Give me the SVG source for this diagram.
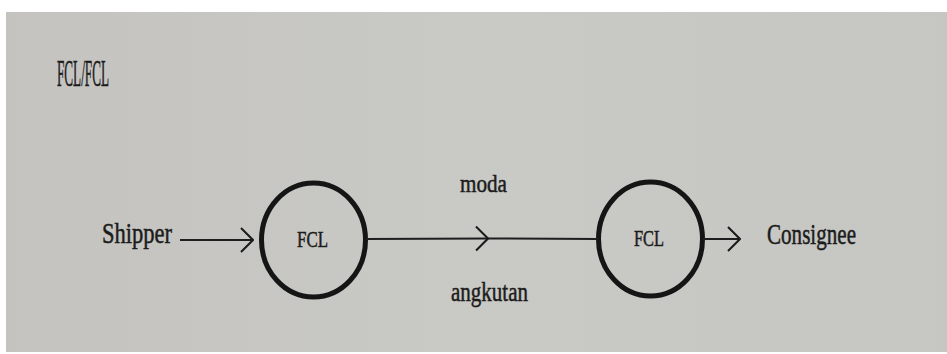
<svg xmlns="http://www.w3.org/2000/svg" width="947" height="354" viewBox="0 0 947 354">
<defs>
<marker id="chev" viewBox="0 0 14 26" refX="13" refY="13" markerWidth="14" markerHeight="26" markerUnits="userSpaceOnUse" orient="auto">
<path d="M1,1 L13,13 L1,25" fill="none" stroke="#1a1a1a" stroke-width="2"/>
</marker>
<linearGradient id="bg" x1="0" y1="0" x2="1" y2="0">
<stop offset="0" stop-color="#c4c3bf"/>
<stop offset="0.5" stop-color="#c9c9c5"/>
<stop offset="1" stop-color="#c6c6c2"/>
</linearGradient>
</defs>
<style>
.t{font-family:"Liberation Serif","Times New Roman",serif;fill:#1c1c1c;stroke:#1c1c1c;stroke-width:0.5}
.node{fill:none;stroke:#151515;stroke-width:5}
.edge{stroke:#1e1e1e;stroke-width:2;fill:none}
</style>
<rect x="0" y="0" width="947" height="354" fill="#ffffff"/>
<rect x="6" y="12" width="941" height="340" fill="url(#bg)"/>
<text class="t" x="57" y="86" font-size="37" textLength="52" lengthAdjust="spacingAndGlyphs">FCL/FCL</text>
<g id="shipper"><text class="t" x="102" y="243" font-size="29" textLength="70" lengthAdjust="spacingAndGlyphs">Shipper</text></g>
<g id="fcl1">
<ellipse class="node" cx="313.5" cy="240" rx="52" ry="57"/>
<text class="t" x="297" y="247" font-size="23" textLength="31" lengthAdjust="spacingAndGlyphs">FCL</text>
</g>
<g id="fcl2">
<ellipse class="node" cx="650.5" cy="239" rx="52" ry="57"/>
<text class="t" x="634" y="246" font-size="23" textLength="30" lengthAdjust="spacingAndGlyphs">FCL</text>
</g>
<g id="consignee"><text class="t" x="767" y="244" font-size="29" textLength="89" lengthAdjust="spacingAndGlyphs">Consignee</text></g>
<g id="connectors">
<line class="edge" x1="180" y1="240" x2="253" y2="240" marker-end="url(#chev)"/>
<line class="edge" x1="366" y1="239" x2="488" y2="238.5" marker-end="url(#chev)"/>
<line class="edge" x1="488" y1="238.5" x2="598" y2="239"/>
<line class="edge" x1="703" y1="239" x2="740" y2="239" marker-end="url(#chev)"/>
<text class="t" x="460" y="192" font-size="26" textLength="47" lengthAdjust="spacingAndGlyphs">moda</text>
<text class="t" x="451" y="301" font-size="27" textLength="77" lengthAdjust="spacingAndGlyphs">angkutan</text>
</g>
</svg>
